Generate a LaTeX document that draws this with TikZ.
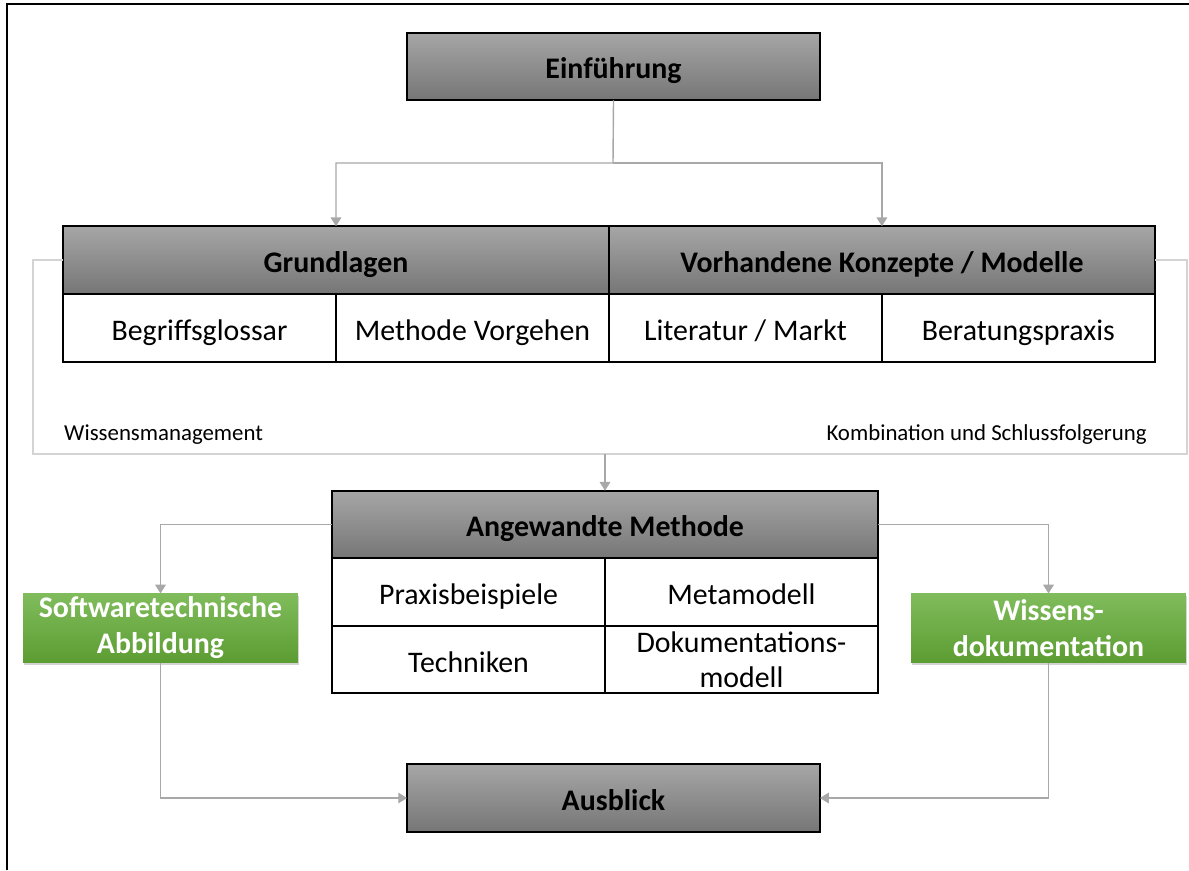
\documentclass[tikz,border=0pt]{standalone}
\usepackage{fontspec}
\setmainfont{Carlito}
\usetikzlibrary{arrows.meta, positioning, shadows}

\definecolor{headtop}{RGB}{166,166,166}
\definecolor{headbot}{RGB}{118,118,118}
\definecolor{greentop}{RGB}{128,188,92}
\definecolor{greenbot}{RGB}{92,157,50}
\definecolor{linegray}{RGB}{168,168,168}
\definecolor{fbgray}{RGB}{212,212,212}

\newcommand{\lowstrut}{\rule[-0.25\baselineskip]{0pt}{1.2\baselineskip}}

\begin{document}
\begin{tikzpicture}[
    x=0.02cm, y=-0.02cm,
    head/.style={draw, line width=0.9pt, outer sep=0pt, inner sep=0pt, top color=headtop, bottom color=headbot,
        align=center, font=\fontsize{17}{20}\selectfont\bfseries, minimum height=1.35cm,
        execute at begin node=\lowstrut},
    cellbase/.style={draw, line width=0.9pt, outer sep=0pt, inner sep=0pt, fill=white, align=center,
        font=\fontsize{17}{20}\selectfont, minimum width=5.46cm, minimum height=1.36cm},
    cell/.style={cellbase, execute at begin node=\lowstrut},
    greenbox/.style={outer sep=0pt, inner sep=0pt, top color=greentop, bottom color=greenbot, text=white,
        align=center, font=\fontsize{17}{20.5}\selectfont\bfseries, minimum width=5.5cm, minimum height=1.38cm,
        drop shadow={opacity=0.35, shadow xshift=0.6pt, shadow yshift=-1.6pt}},
    note/.style={font=\fontsize{13}{15}\selectfont},
    arrow/.style={-{Triangle[length=5pt, width=6pt]}, draw=linegray, line width=0.8pt},
    fback/.style={draw=fbgray, line width=0.9pt}
]
\useasboundingbox (0,0) rectangle (1189,870);

% frame
\draw[line width=1.6pt] (7,870) -- (7,4) -- (1189,4);

% top and bottom
\node[head, minimum width=8.26cm] (einf) at (613.5,66.5) {Einführung};
\node[head, minimum width=8.26cm] (ausb) at (613.5,798) {Ausblick};

% first level
\node[head, minimum width=10.92cm] (grund) at (336,260) {Grundlagen};
\node[head, minimum width=10.92cm, right=0pt of grund] (vorh) {Vorhandene Konzepte / Modelle};

\node[cell, below right=0pt of grund.south west] (begriff) {Begriffsglossar};
\node[cell, right=0pt of begriff] (methode) {Methode Vorgehen};
\node[cell, below right=0pt of vorh.south west] (literatur) {Literatur / Markt};
\node[cell, right=0pt of literatur] (beratung) {Beratungspraxis};

\node[note, anchor=west] (wissmgmt) at (58,435) {Wissensmanagement};
\node[note, anchor=east] (kombi) at (1153,435) {Kombination und Schlussfolgerung};

% applied method
\node[head, minimum width=10.92cm] (angew) at (605,524.5) {Angewandte Methode};
\node[cell, below right=0pt of angew.south west] (praxis) {Praxisbeispiele};
\node[cell, right=0pt of praxis] (meta) {Metamodell};
\node[cell, below=0pt of praxis, minimum height=1.34cm] (technik) {Techniken};
\node[cellbase, right=0pt of technik, minimum height=1.34cm] (doku) {Dokumentations-\\modell};

\node[greenbox] (soft) at (160.5,628) {Softwaretechnische\\Abbildung};
\node[greenbox] (wissdoku) at (1048.5,628) {Wissens-\\dokumentation};

% connectors
\coordinate (split) at (613,163);
\draw[arrow] (einf.south) -- (split) -| (grund.north);
\draw[arrow] (split) -| (vorh.north);

\coordinate (fbL) at (33,454);
\coordinate (fbR) at (1187,454);
\draw[fback] (grund.west) -| (fbL) -- (fbR) |- (vorh.east);
\draw[arrow] (angew.north |- fbL) -- (angew.north);

\draw[arrow] (angew.west) -| (soft.north);
\draw[arrow] (angew.east) -| (wissdoku.north);
\draw[arrow] (soft.south) |- (ausb.west);
\draw[arrow] (wissdoku.south) |- (ausb.east);

\end{tikzpicture}
\end{document}
